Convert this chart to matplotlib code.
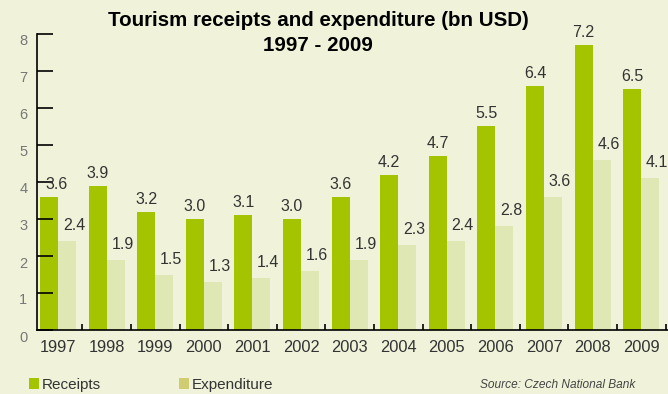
import matplotlib
matplotlib.use('Agg')
import matplotlib.pyplot as plt
import matplotlib.transforms as mtransforms
from matplotlib.patches import Rectangle
import numpy as np

plt.rcParams['font.family'] = ['Liberation Sans', 'DejaVu Sans']

years = ['1997', '1998', '1999', '2000', '2001', '2002', '2003',
         '2004', '2005', '2006', '2007', '2008', '2009']
# bar heights as drawn in the picture
receipts = [3.6, 3.9, 3.2, 3.0, 3.1, 3.0, 3.6, 4.2, 4.7, 5.5, 6.6, 7.7, 6.5]
expenditure = [2.4, 1.9, 1.5, 1.3, 1.4, 1.6, 1.9, 2.3, 2.4, 2.8, 3.6, 4.6, 4.1]
# value labels as printed
receipts_labels = ['3.6', '3.9', '3.2', '3.0', '3.1', '3.0', '3.6',
                   '4.2', '4.7', '5.5', '6.4', '7.2', '6.5']
expenditure_labels = ['2.4', '1.9', '1.5', '1.3', '1.4', '1.6', '1.9',
                      '2.3', '2.4', '2.8', '3.6', '4.6', '4.1']

bg = '#f0f3da'
green = '#a4c400'
pale = '#dfe7b4'
pale_legend = '#cfcc72'
txt = '#333333'

W, H = 668, 394
fig = plt.figure(figsize=(W / 100, H / 100), dpi=100, facecolor=bg)
ax = fig.add_axes([37 / W, 64 / H, (668 - 37) / W, (330 - 34) / H])
ax.set_facecolor(bg)

x = np.arange(len(years))
bw = 0.37
ax.bar(x - bw / 2, receipts, bw, color=green, linewidth=0)
ax.bar(x + bw / 2, expenditure, bw, color=pale, linewidth=0)

px = fig.dpi_scale_trans
for i in range(len(years)):
    dx = 8 if i == 0 else 0
    off = mtransforms.offset_copy(ax.transData, fig=fig, x=dx, y=5, units='dots')
    ax.text(x[i] - bw / 2, receipts[i], receipts_labels[i], transform=off,
            ha='center', va='bottom', fontsize=11.5, color=txt)
    off2 = mtransforms.offset_copy(ax.transData, fig=fig, x=7, y=8, units='dots')
    ax.text(x[i] + bw / 2, expenditure[i], expenditure_labels[i], transform=off2,
            ha='center', va='bottom', fontsize=11.5, color=txt)

ax.set_xlim(-0.432, 12.55)
ax.set_ylim(0, 8)

for s in ['top', 'right']:
    ax.spines[s].set_visible(False)
for s in ['left', 'bottom']:
    ax.spines[s].set_color('black')
    ax.spines[s].set_linewidth(1.2)

ax.set_yticks(range(0, 9))
ax.tick_params(axis='y', direction='in', length=11.5, width=1.2, color='black',
               pad=7, labelsize=10.5, labelcolor='#777777')
shift = mtransforms.ScaledTranslation(0, -0.06, px)
for lab in ax.get_yticklabels():
    lab.set_transform(lab.get_transform() + shift)

ax.set_xticks(x)
ax.set_xticklabels(years)
ax.tick_params(axis='x', which='major', length=0, pad=7, labelsize=11.8, labelcolor=txt)
ax.set_xticks(x + 0.5, minor=True)
ax.tick_params(axis='x', which='minor', direction='in', length=4, width=1.2, color='black')

fig.text(318 / W, (H - 26) / H, 'Tourism receipts and expenditure (bn USD)',
         ha='center', va='baseline', fontsize=14.8, fontweight='bold', color='black')
fig.text(318 / W, (H - 50.7) / H, '1997 - 2009',
         ha='center', va='baseline', fontsize=14.8, fontweight='bold', color='black')

fig.add_artist(Rectangle((29 / W, (H - 389) / H), 10 / W, 11 / H,
                         transform=fig.transFigure, color=green, linewidth=0))
fig.text(42 / W, (H - 389) / H, 'Receipts', ha='left', va='baseline',
         fontsize=11, color=txt)
fig.add_artist(Rectangle((179 / W, (H - 389) / H), 10 / W, 11 / H,
                         transform=fig.transFigure, color=pale_legend, linewidth=0))
fig.text(192 / W, (H - 389) / H, 'Expenditure', ha='left', va='baseline',
         fontsize=11, color=txt)
fig.text(635 / W, (H - 388) / H, 'Source: Czech National Bank', ha='right',
         va='baseline', fontsize=8.6, style='italic', color='#444444')

fig.savefig('out.png', dpi=100, facecolor=bg)
